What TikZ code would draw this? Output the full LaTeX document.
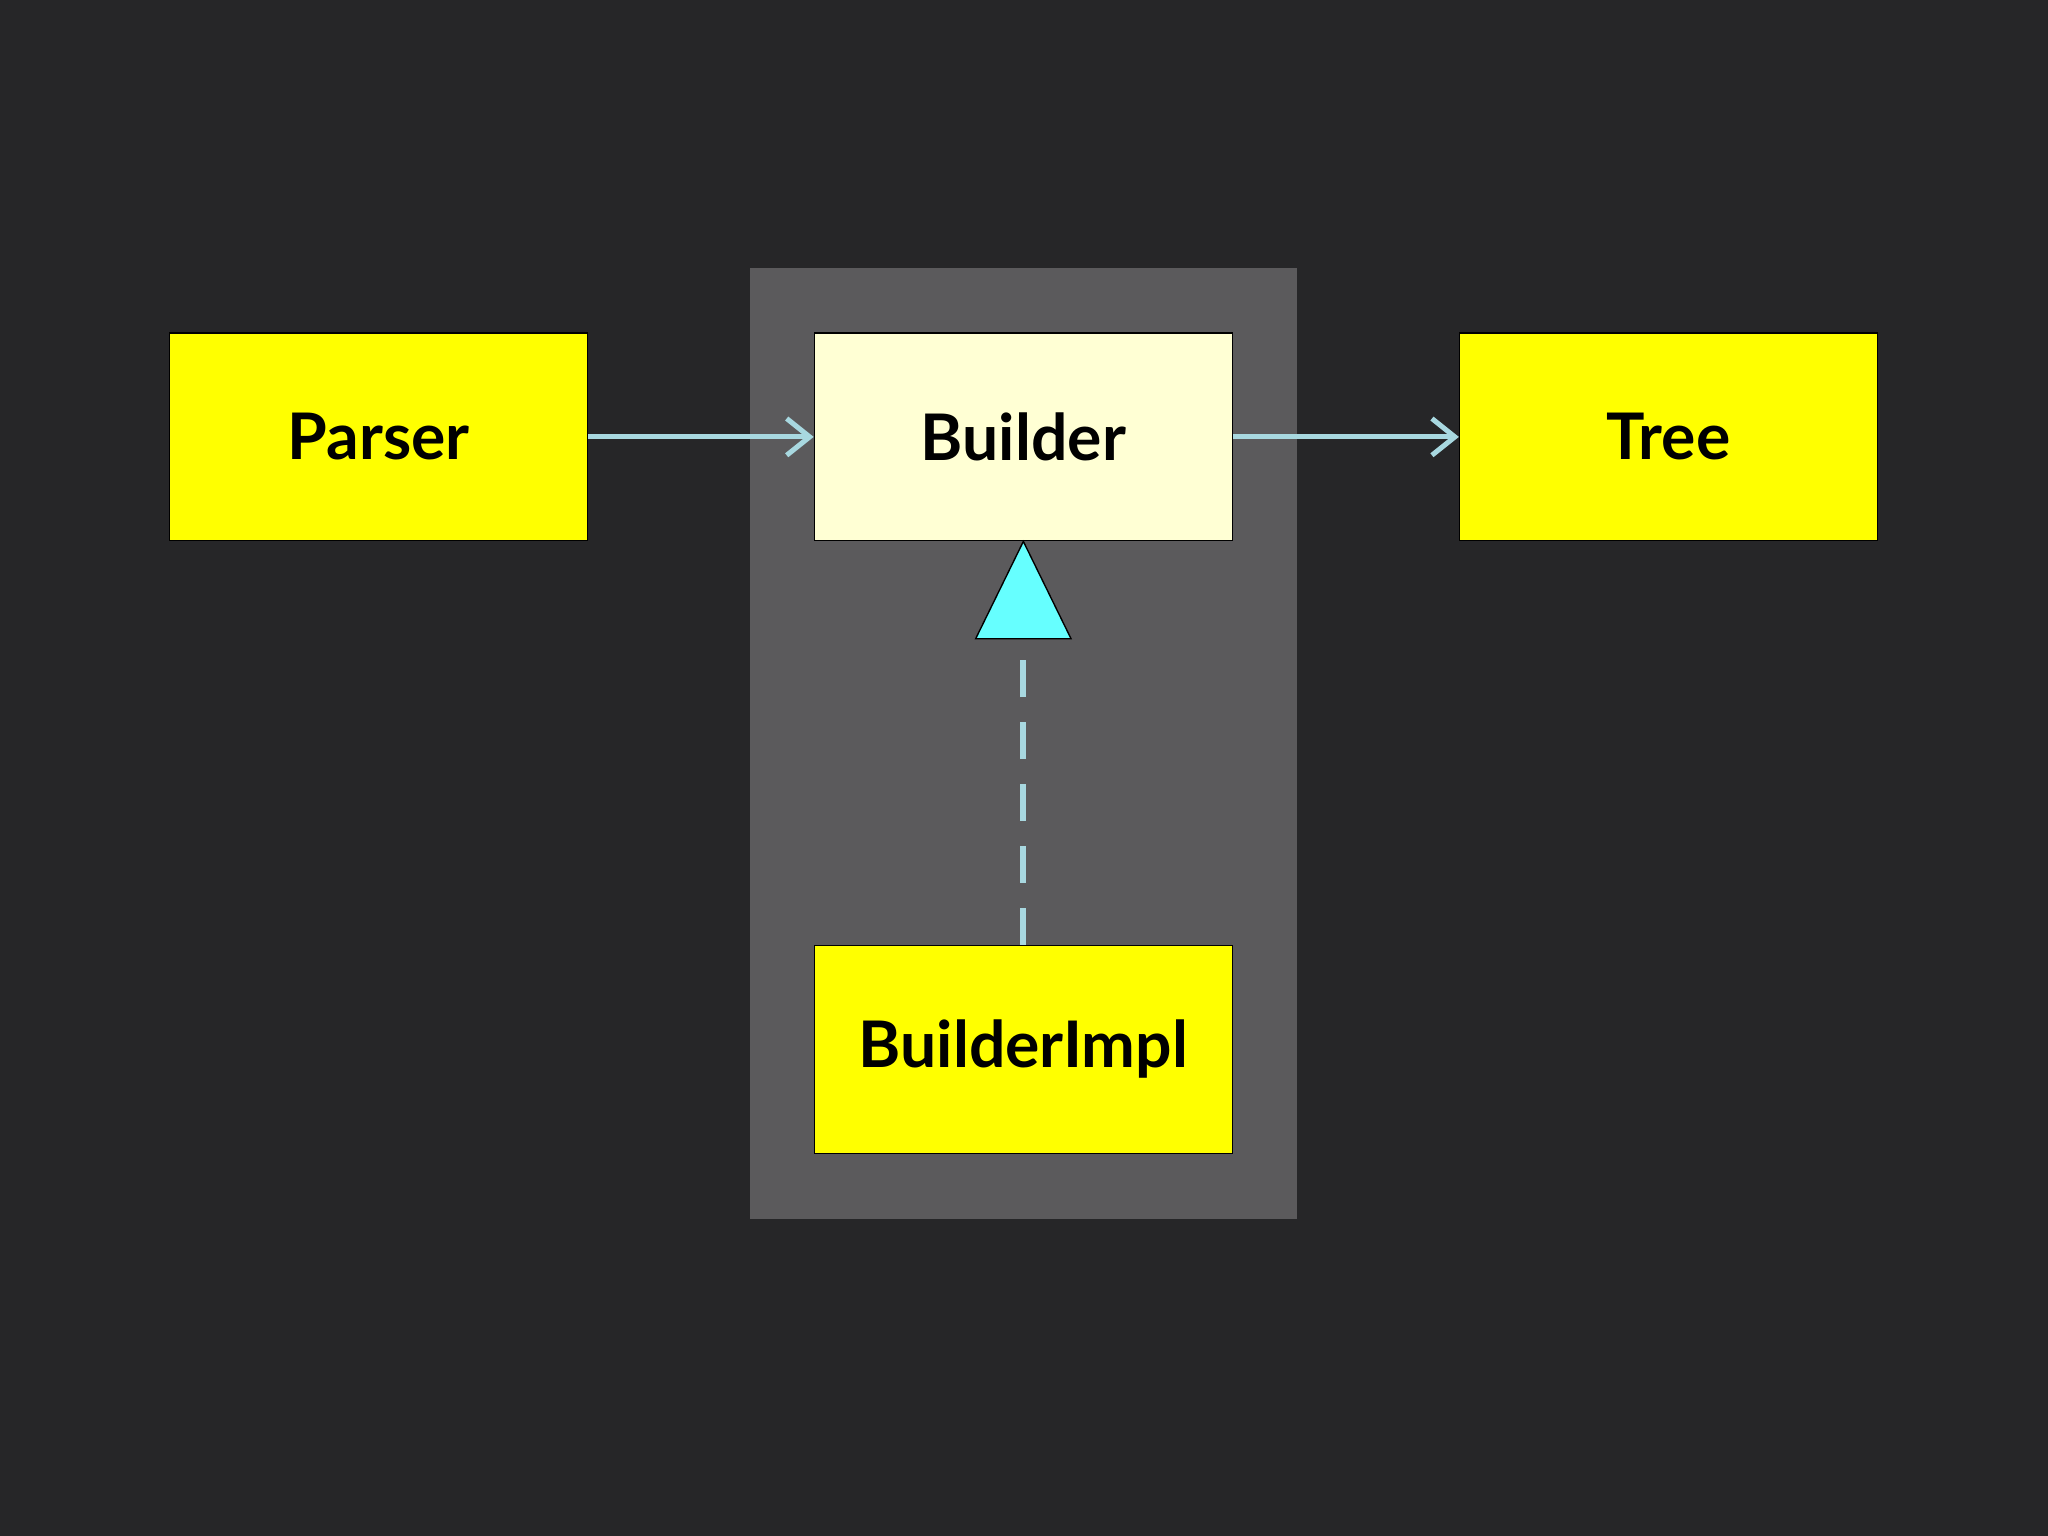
\documentclass[tikz,border=0pt]{standalone}
\usepackage{fontspec}
\setmainfont{Lato}
\usetikzlibrary{arrows.meta}
\definecolor{bg}{HTML}{262628}
\definecolor{panel}{HTML}{5B5A5C}
\definecolor{ybox}{HTML}{FFFF00}
\definecolor{lybox}{HTML}{FFFFD4}
\definecolor{conn}{HTML}{A8D8E0}
\definecolor{tri}{HTML}{66FFFF}
\begin{document}
\begin{tikzpicture}[x=0.02cm,y=-0.02cm,
  cls/.style={draw=black,line width=0.6pt,fill=ybox,minimum width=320*0.02cm,minimum height=159*0.02cm,inner sep=0pt,font=\fontsize{28}{32}\selectfont\bfseries},
  assoc/.style={draw=conn,line width=2.2pt,-{Straight Barb[length=10pt,width=16pt,line width=2.2pt]}}]
\fill[bg] (0,0) rectangle (1568,1176);
\fill[panel] (574,205) rectangle (993,933);
\node[cls] (parser) at (290,334.5) {Parser};
\node[cls,fill=lybox] (builder) at (783.5,334.5) {Builder};
\node[cls] (tree) at (1277.5,334.5) {Tree};
\node[cls] (impl) at (783.5,803.5) {BuilderImpl};
\draw[assoc] (parser.east) -- (builder.west);
\draw[assoc] (builder.east) -- (tree.west);
\coordinate (tb) at (783.5,489);
\draw[conn,line width=2.5pt,dash pattern=on 16pt off 11pt] (impl.north) -- (tb);
\draw[black,line width=0.6pt,fill=tri] (builder.south) -- (747,489) -- (820,489) -- cycle;
\end{tikzpicture}
\end{document}
